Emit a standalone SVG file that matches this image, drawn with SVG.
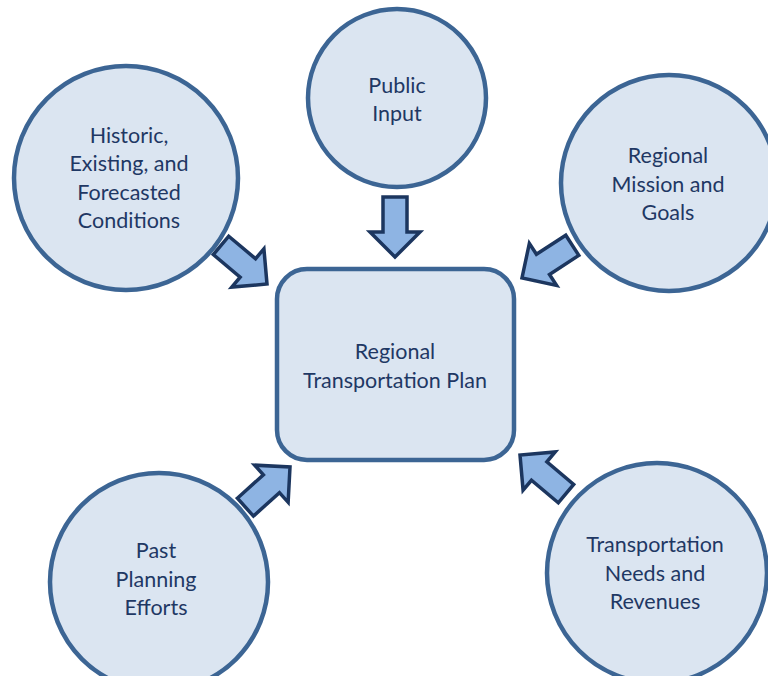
<svg xmlns="http://www.w3.org/2000/svg" width="768" height="676" viewBox="0 0 768 676">
<style>
.node{fill:#dbe5f1;stroke:#3c6594;stroke-width:4.5}
.lbl{font-family:Lato,"Open Sans","Liberation Sans",sans-serif;font-size:21.5px;fill:#1f3864;text-anchor:middle}
.arr{fill:#8eb4e3;stroke:#1c365f;stroke-width:3.5;stroke-linejoin:miter}
</style>
<defs>
<polygon id="arrow" points="-60,-12 -25,-12 -25,-25 0,0 -25,25 -25,12 -60,12"/>
</defs>
<rect width="768" height="676" fill="#ffffff"/>
<g id="public-input">
<circle class="node" cx="397" cy="98" r="89"/>
<text class="lbl"><tspan x="397" y="93">Public</tspan><tspan x="397" y="121">Input</tspan></text>
</g>
<g id="historic">
<circle class="node" cx="126" cy="178" r="112"/>
<text class="lbl"><tspan x="129" y="143">Historic,</tspan><tspan x="129" y="171">Existing, and</tspan><tspan x="129" y="200">Forecasted</tspan><tspan x="129" y="228">Conditions</tspan></text>
</g>
<g id="mission">
<circle class="node" cx="669" cy="183" r="108"/>
<text class="lbl"><tspan x="668" y="163">Regional</tspan><tspan x="668" y="192">Mission and</tspan><tspan x="668" y="220">Goals</tspan></text>
</g>
<g id="plan">
<rect class="node" x="277" y="269" width="237" height="191" rx="30" ry="30"/>
<text class="lbl"><tspan x="395" y="359">Regional</tspan><tspan x="395" y="388">Transportation Plan</tspan></text>
</g>
<g id="past">
<circle class="node" cx="159" cy="582" r="109"/>
<text class="lbl"><tspan x="156" y="558">Past</tspan><tspan x="156" y="587">Planning</tspan><tspan x="156" y="615">Efforts</tspan></text>
</g>
<g id="needs">
<circle class="node" cx="657" cy="573" r="110"/>
<text class="lbl"><tspan x="655" y="552">Transportation</tspan><tspan x="655" y="581">Needs and</tspan><tspan x="655" y="609">Revenues</tspan></text>
</g>
<g id="connectors">
<use href="#arrow" class="arr" transform="translate(395,257) rotate(90)"/>
<use href="#arrow" class="arr" transform="translate(267,284) rotate(40)"/>
<use href="#arrow" class="arr" transform="translate(522,278) rotate(147)"/>
<use href="#arrow" class="arr" transform="translate(290,467) rotate(-42)"/>
<use href="#arrow" class="arr" transform="translate(520,455) rotate(-140)"/>
</g>
</svg>
